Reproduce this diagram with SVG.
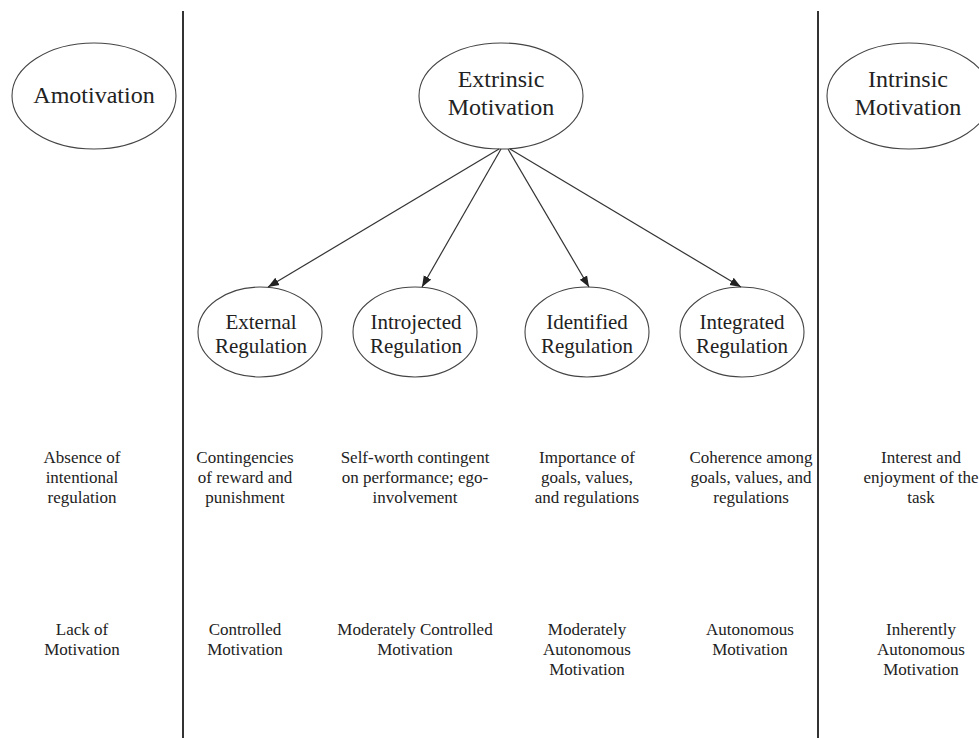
<svg xmlns="http://www.w3.org/2000/svg" width="979" height="738" viewBox="0 0 979 738">
<defs>
<style>
text{font-family:"Liberation Serif","Times New Roman",serif;fill:#222;text-anchor:middle}
.big{font-size:24px}
.mid{font-size:21px}
.sm{font-size:17px}
.node ellipse{fill:none;stroke:#444;stroke-width:1.1}
.divider{stroke:#333;stroke-width:2}
.conn line{stroke:#333;stroke-width:1.2;marker-end:url(#ah)}
</style>
<marker id="ah" markerUnits="userSpaceOnUse" markerWidth="12" markerHeight="10" viewBox="0 0 12 10" refX="11" refY="5" orient="auto">
<path d="M0,0.8 L11,5 L0,9.2 Z" fill="#222"/>
</marker>
</defs>
<rect width="979" height="738" fill="#fff"/>
<g id="dividers">
<line class="divider" x1="183" y1="11" x2="183" y2="738"/>
<line class="divider" x1="818" y1="11" x2="818" y2="738"/>
</g>
<g id="amotivation" class="node">
<ellipse cx="94" cy="96" rx="82" ry="53"/>
<text class="big" x="94" y="103">Amotivation</text>
</g>
<g id="extrinsic" class="node">
<ellipse cx="501" cy="96" rx="82" ry="53"/>
<text class="big" x="501" y="87">Extrinsic</text>
<text class="big" x="501" y="115">Motivation</text>
</g>
<g id="intrinsic" class="node">
<ellipse cx="909" cy="96" rx="82" ry="53"/>
<text class="big" x="908" y="87">Intrinsic</text>
<text class="big" x="908" y="115">Motivation</text>
</g>
<g id="external" class="node">
<ellipse cx="260" cy="332" rx="62" ry="45"/>
<text class="mid" x="261" y="329">External</text>
<text class="mid" x="261" y="353">Regulation</text>
</g>
<g id="introjected" class="node">
<ellipse cx="415" cy="332" rx="62" ry="45"/>
<text class="mid" x="416" y="329">Introjected</text>
<text class="mid" x="416" y="353">Regulation</text>
</g>
<g id="identified" class="node">
<ellipse cx="587" cy="332" rx="62" ry="45"/>
<text class="mid" x="587" y="329">Identified</text>
<text class="mid" x="587" y="353">Regulation</text>
</g>
<g id="integrated" class="node">
<ellipse cx="742" cy="332" rx="62" ry="45"/>
<text class="mid" x="742" y="329">Integrated</text>
<text class="mid" x="742" y="353">Regulation</text>
</g>
<g id="connectors" class="conn">
<line x1="499" y1="149" x2="268" y2="287"/>
<line x1="501" y1="149" x2="422" y2="287"/>
<line x1="508" y1="149" x2="589" y2="287"/>
<line x1="510" y1="149" x2="741" y2="287"/>
</g>
<g id="descriptions">
<text class="sm" x="82" y="463">Absence of</text>
<text class="sm" x="82" y="483">intentional</text>
<text class="sm" x="82" y="503">regulation</text>
<text class="sm" x="245" y="463">Contingencies</text>
<text class="sm" x="245" y="483">of reward and</text>
<text class="sm" x="245" y="503">punishment</text>
<text class="sm" x="415" y="463">Self-worth contingent</text>
<text class="sm" x="415" y="483">on performance; ego-</text>
<text class="sm" x="415" y="503">involvement</text>
<text class="sm" x="587" y="463">Importance of</text>
<text class="sm" x="587" y="483">goals, values,</text>
<text class="sm" x="587" y="503">and regulations</text>
<text class="sm" x="751" y="463">Coherence among</text>
<text class="sm" x="751" y="483">goals, values, and</text>
<text class="sm" x="751" y="503">regulations</text>
<text class="sm" x="921" y="463">Interest and</text>
<text class="sm" x="921" y="483">enjoyment of the</text>
<text class="sm" x="921" y="503">task</text>
</g>
<g id="motivation-types">
<text class="sm" x="82" y="635">Lack of</text>
<text class="sm" x="82" y="655">Motivation</text>
<text class="sm" x="245" y="635">Controlled</text>
<text class="sm" x="245" y="655">Motivation</text>
<text class="sm" x="415" y="635">Moderately Controlled</text>
<text class="sm" x="415" y="655">Motivation</text>
<text class="sm" x="587" y="635">Moderately</text>
<text class="sm" x="587" y="655">Autonomous</text>
<text class="sm" x="587" y="675">Motivation</text>
<text class="sm" x="750" y="635">Autonomous</text>
<text class="sm" x="750" y="655">Motivation</text>
<text class="sm" x="921" y="635">Inherently</text>
<text class="sm" x="921" y="655">Autonomous</text>
<text class="sm" x="921" y="675">Motivation</text>
</g>
</svg>
